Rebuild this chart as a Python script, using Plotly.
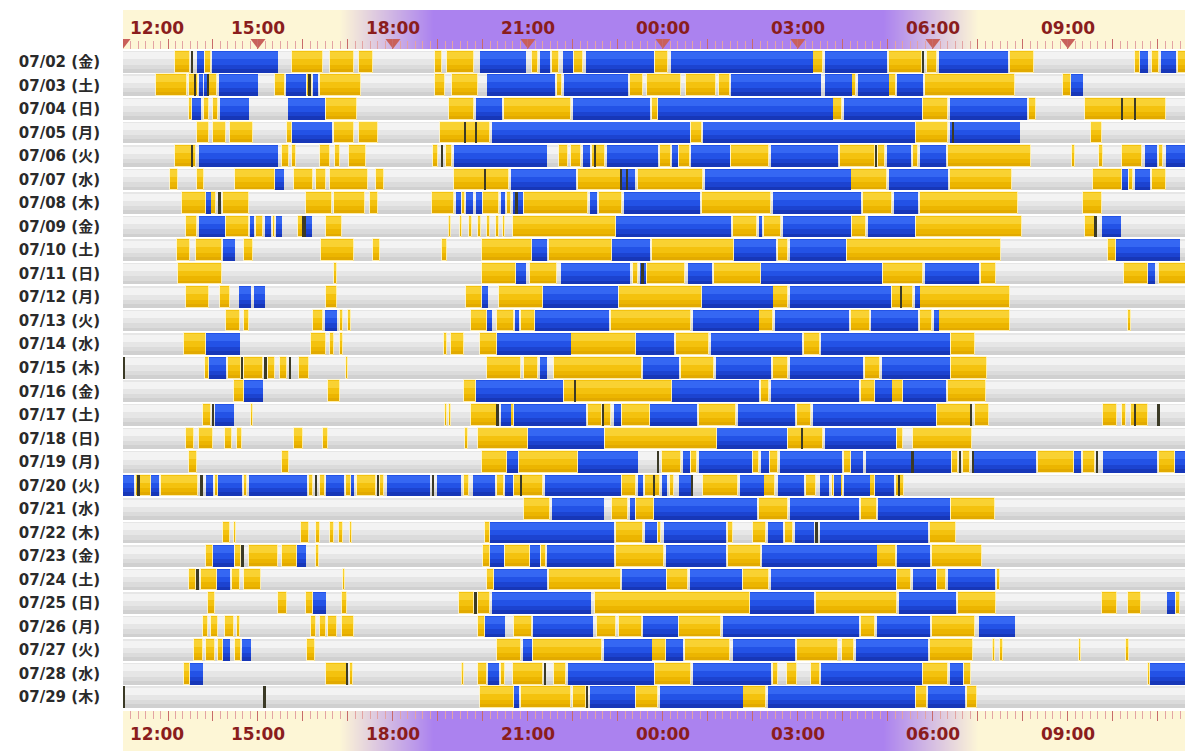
import plotly.graph_objects as go

# ---------------- data (hours after 12:00 of the row's date) ----------------
DATES = ["07/02", "07/03", "07/04", "07/05", "07/06", "07/07", "07/08", "07/09",
         "07/10", "07/11", "07/12", "07/13", "07/14", "07/15", "07/16", "07/17",
         "07/18", "07/19", "07/20", "07/21", "07/22", "07/23", "07/24", "07/25",
         "07/26", "07/27", "07/28", "07/29"]
WEEKDAYS = ["金", "土", "日", "月", "火", "水", "木", "金", "土", "日", "月", "火", "水", "木",
            "金", "土", "日", "月", "火", "水", "木", "金", "土", "日", "月", "火", "水", "木"]

WINDOW = (0.0, 24.0)   # every row covers 12:00 -> 12:00 next day

TIME_TICKS = [0, 3, 6, 9, 12, 15, 18, 21]
TIME_LABELS = ["12:00", "15:00", "18:00", "21:00", "00:00", "03:00", "06:00", "09:00"]

NIGHT_X = [-0.5, 4.8, 6.9, 16.9, 19.0, 24.5]
NIGHT_Z = [0, 0, 1, 1, 0, 0]

YELLOW = [
    [(1.16,1.50),(1.83,1.96),(3.76,4.45),(4.6,5.14),(5.25,5.56),(6.93,7.09),(7.2,7.81),(9.08,9.23),(9.54,9.69),(10.03,10.22),(11.83,12.12),(15.33,15.56),(17.02,17.75),(17.86,18.1),(19.71,20.25),(22.48,22.6),(22.86,23.02),(23.44,23.78)],
    [(0.74,1.43),(1.46,1.66),(1.92,2.1),(3.38,3.61),(4.08,4.2),(4.37,5.29),(6.93,7.16),(7.32,7.89),(9.65,9.76),(11.26,11.56),(11.64,12.4),(12.52,13.17),(13.25,13.48),(16.21,16.29),(17.02,17.17),(17.83,19.83),(20.9,21.06)],
    [(1.46,1.54),(1.81,1.92),(2.0,2.12),(4.52,5.21),(7.24,7.81),(8.47,9.96),(11.76,11.9),(15.79,15.98),(17.79,18.33),(20.13,20.29),(21.37,23.17)],
    [(1.65,1.92),(2.0,2.3),(2.38,2.88),(3.64,3.76),(4.68,5.14),(5.25,5.67),(7.05,8.16),(12.63,12.86),(17.63,18.33),(21.52,21.75),(23.67,23.78)],
    [(1.16,1.62),(3.53,3.68),(3.76,3.84),(4.37,4.6),(4.72,4.83),(5.02,5.4),(6.9,7.01),(7.17,7.32),(9.69,9.88),(9.96,10.18),(10.42,10.72),(11.94,12.17),(12.36,12.6),(13.52,14.36),(15.94,16.71),(16.79,16.94),(17.56,17.67),(18.33,20.17),(21.1,21.15),(21.7,21.78),(22.2,22.64),(23.02,23.12)],
    [(1.04,1.23),(1.65,1.81),(2.5,3.38),(3.8,4.22),(4.3,4.52),(4.6,5.44),(5.63,5.79),(7.36,8.58),(10.11,11.07),(11.45,12.9),(16.17,16.98),(18.37,19.75),(21.56,22.21),(22.35,22.45),(22.87,23.17)],
    [(1.31,1.85),(1.96,2.07),(2.23,2.8),(4.07,4.64),(4.68,5.37),(5.48,5.67),(6.86,7.36),(7.53,7.6),(8.0,8.35),(8.54,8.62),(8.92,10.34),(10.57,11.1),(12.86,14.4),(16.44,17.1),(17.71,19.9),(21.33,21.75)],
    [(1.39,1.65),(2.3,2.8),(2.95,3.12),(3.33,3.38),(3.9,4.0),(4.52,4.87),(7.24,7.28),(7.5,7.54),(7.7,7.75),(7.9,7.95),(8.1,8.15),(8.3,8.35),(8.45,8.5),(8.66,10.95),(13.56,14.1),(14.25,14.63),(16.21,16.52),(17.63,19.98),(21.37,21.6)],
    [(1.2,1.5),(1.62,2.19),(2.69,2.88),(4.41,5.14),(5.56,5.71),(7.09,7.2),(7.97,9.08),(9.46,10.87),(11.76,13.59),(14.56,14.79),(16.1,19.52),(21.9,22.06)],
    [(1.23,2.19),(4.68,4.75),(7.97,8.73),(9.04,9.65),(11.33,11.45),(11.65,12.48),(13.13,14.17),(16.9,17.79),(19.06,19.4),(22.25,22.79),(23.02,23.78)],
    [(1.39,1.92),(2.15,2.38),(4.52,4.75),(7.62,7.97),(8.35,9.34),(11.03,12.86),(14.44,14.79),(17.1,17.56),(17.71,19.71)],
    [(2.3,2.61),(2.7,2.8),(4.22,4.45),(4.83,4.88),(5.0,5.06),(7.74,8.08),(8.31,8.7),(8.85,9.15),(10.84,12.63),(14.13,14.44),(16.17,16.6),(17.71,17.98),(18.13,19.71),(22.33,22.4)],
    [(1.35,1.85),(4.18,4.52),(4.6,4.7),(4.83,4.9),(7.13,7.2),(7.3,7.58),(7.93,8.31),(9.96,11.41),(12.29,13.02),(15.13,15.48),(18.4,18.94)],
    [(1.82,1.92),(2.34,2.62),(2.69,3.11),(3.22,3.38),(3.5,3.65),(3.91,4.14),(4.95,5.0),(8.08,8.85),(8.92,9.23),(9.57,11.53),(12.4,13.13),(14.44,14.79),(16.48,16.83),(18.4,19.21)],
    [(2.46,2.69),(4.56,4.83),(7.58,7.85),(9.8,12.21),(14.17,14.36),(16.4,16.71),(17.1,17.33),(18.33,19.17)],
    [(1.77,1.96),(2.84,2.89),(7.16,7.2),(7.25,7.28),(7.74,8.31),(8.62,8.7),(10.34,10.64),(10.7,10.85),(11.1,11.72),(12.79,13.63),(14.98,15.29),(18.1,18.87),(18.94,19.25),(21.79,22.1),(22.2,22.3),(22.4,22.79)],
    [(1.39,1.58),(1.69,2.0),(2.27,2.42),(2.53,2.65),(3.8,3.99),(4.45,4.56),(7.6,7.67),(7.89,9.0),(10.72,13.21),(14.79,15.56),(17.21,17.33),(17.56,18.87)],
    [(1.46,1.65),(3.53,3.68),(7.97,8.54),(8.81,10.11),(11.98,12.4),(12.63,12.75),(14.0,14.13),(14.38,14.55),(16.02,16.17),(18.42,18.55),(18.67,18.83),(20.33,21.13),(21.33,21.6),(23.02,23.37)],
    [(0.28,0.62),(0.85,1.66),(2.04,2.11),(2.69,2.76),(4.14,4.22),(4.37,4.49),(4.95,5.06),(5.21,5.63),(5.71,5.79),(7.58,7.7),(8.31,8.47),(8.7,9.34),(11.1,11.41),(11.6,11.93),(12.15,12.25),(12.9,13.67),(14.25,14.5),(15.17,15.4),(15.75,15.8),(15.95,16.0),(16.6,16.71),(17.17,17.36)],
    [(8.92,9.5),(10.87,11.22),(11.41,11.79),(14.13,14.79),(16.4,16.75),(18.4,19.37)],
    [(2.23,2.38),(2.46,2.52),(3.95,4.14),(4.3,4.38),(4.6,4.7),(4.8,4.88),(5.05,5.1),(8.04,8.16),(10.95,11.56),(11.88,11.96),(13.44,13.56),(14.0,14.29),(14.71,14.9),(17.94,18.52)],
    [(1.85,2.0),(2.5,2.62),(2.8,3.45),(3.53,3.87),(4.3,4.36),(8.0,8.16),(8.5,9.04),(9.3,9.4),(10.95,12.02),(13.44,14.17),(16.75,17.17),(17.98,19.1)],
    [(1.46,1.62),(1.73,2.08),(2.42,2.61),(2.69,3.07),(4.88,4.93),(8.08,8.24),(9.46,11.07),(12.1,12.56),(13.79,14.36),(17.21,17.52),(18.1,18.29),(19.42,19.48)],
    [(1.88,2.04),(3.45,3.64),(4.07,4.22),(4.87,4.98),(7.47,7.81),(7.89,8.16),(10.49,13.94),(15.4,17.21),(18.56,19.4),(21.75,22.1),(22.33,22.63),(23.4,23.48)],
    [(1.77,1.88),(1.96,2.11),(2.27,2.46),(2.53,2.6),(4.18,4.3),(4.37,4.52),(4.56,4.75),(4.87,5.14),(7.89,8.04),(8.7,9.08),(10.53,10.95),(11.03,11.53),(12.36,13.29),(16.4,16.71),(17.98,18.94)],
    [(1.58,1.77),(1.85,2.04),(2.12,2.23),(2.5,2.62),(4.1,4.26),(8.31,8.85),(9.11,10.64),(11.75,12.06),(12.48,13.48),(14.98,15.9),(15.98,16.25),(17.94,18.9),(19.33,19.37),(19.5,19.55),(21.25,21.3),(22.3,22.35)],
    [(1.35,1.5),(4.52,4.98),(5.05,5.12),(7.53,7.57),(7.89,8.08),(8.39,8.5),(8.66,9.34),(9.57,9.84),(11.82,12.63),(14.44,14.55),(14.75,14.98),(15.3,15.48),(17.79,18.33),(18.7,18.85),(22.78,22.83)],
    [(7.93,8.7),(8.85,9.96),(10.0,10.3),(11.41,11.9),(13.79,14.29),(17.63,17.87),(18.75,18.98)],
]

BLUE = [
    [(1.65,1.81),(1.98,3.45),(7.93,8.96),(9.27,9.5),(9.77,9.99),(10.3,11.8),(12.17,15.33),(15.6,16.98),(18.13,19.67),(22.6,22.79),(23.06,23.4)],
    [(1.69,1.77),(1.81,1.88),(2.14,2.99),(3.63,4.06),(4.22,4.33),(8.08,9.61),(9.8,11.22),(13.52,15.52),(15.6,16.21),(16.33,17.02),(17.21,17.79),(21.06,21.33)],
    [(1.54,1.73),(2.15,2.8),(3.66,4.49),(7.85,8.43),(9.99,11.72),(11.9,15.79),(16.02,17.75),(18.37,20.1)],
    [(3.76,4.64),(8.2,12.6),(12.9,17.6),(18.37,19.94)],
    [(1.68,3.45),(7.36,9.42),(10.22,10.38),(10.76,11.9),(12.21,12.33),(12.63,13.48),(14.4,15.9),(16.98,17.52),(17.71,18.29),(22.71,22.98),(23.17,23.78)],
    [(3.38,3.57),(8.62,10.07),(11.1,11.37),(12.94,16.17),(17.02,18.33),(22.21,22.33),(22.48,22.83)],
    [(1.85,1.96),(7.39,7.51),(7.62,7.77),(7.85,7.97),(8.39,8.5),(8.66,8.88),(10.38,10.53),(11.14,12.83),(14.44,16.4),(17.13,17.67)],
    [(1.68,2.27),(2.83,2.92),(3.15,3.3),(3.41,3.53),(4.07,4.2),(10.95,13.52),(14.13,14.21),(14.67,16.17),(16.56,17.6),(21.75,22.17)],
    [(2.23,2.5),(9.08,9.42),(10.87,11.72),(13.59,14.52),(14.83,16.06),(22.06,23.48)],
    [(8.73,8.96),(9.73,11.26),(11.5,11.62),(12.56,13.1),(14.17,16.86),(17.83,19.02),(22.79,22.94)],
    [(2.57,2.84),(2.92,3.15),(7.97,8.12),(9.34,10.99),(12.86,14.44),(14.83,17.06),(17.6,17.71)],
    [(4.49,4.75),(8.08,8.2),(8.72,8.8),(9.15,10.8),(12.67,14.13),(14.48,16.13),(16.63,17.67),(18.02,18.13)],
    [(1.85,2.61),(8.31,9.96),(11.41,12.25),(13.06,15.1),(15.52,18.37)],
    [(1.92,2.3),(9.27,9.42),(11.56,12.36),(13.17,14.4),(14.83,16.44),(16.86,18.37)],
    [(2.69,3.11),(7.85,9.77),(12.21,14.13),(14.4,16.36),(16.71,17.1),(17.33,18.29)],
    [(2.04,2.46),(8.39,8.62),(8.7,10.3),(10.91,11.07),(11.72,12.75),(13.67,14.94),(15.33,18.06)],
    [(9.0,10.68),(13.21,14.75),(15.6,17.17)],
    [(8.54,8.77),(10.11,11.45),(12.44,12.6),(12.79,13.98),(14.17,14.36),(14.6,15.98),(16.17,16.44),(16.52,18.4),(18.92,20.29),(21.13,21.29),(21.79,22.98),(23.37,23.78)],
    [(0.01,0.24),(0.62,0.81),(1.85,2.0),(2.11,2.65),(2.8,4.1),(4.52,4.91),(5.06,5.14),(5.86,6.82),(6.97,7.51),(7.78,8.27),(8.5,8.66),(9.38,11.07),(11.45,11.56),(11.98,12.1),(12.36,12.63),(13.71,14.25),(14.56,15.13),(15.48,15.7),(15.8,15.95),(16.02,16.6),(16.71,17.13)],
    [(9.54,10.68),(11.26,11.37),(11.79,14.1),(14.83,16.36),(16.79,18.37)],
    [(8.16,10.91),(11.6,11.86),(12.02,13.4),(14.33,14.67),(14.94,15.36),(15.48,17.9)],
    [(2.0,2.46),(3.87,4.07),(8.16,8.47),(9.04,9.27),(9.42,10.91),(12.06,13.4),(14.21,16.75),(17.21,17.94)],
    [(2.08,2.38),(8.24,9.42),(11.1,12.06),(12.6,13.75),(14.4,17.17),(17.56,18.06),(18.33,19.37)],
    [(4.22,4.52),(8.2,10.41),(13.94,15.36),(17.25,18.52),(23.21,23.37)],
    [(8.04,8.5),(9.11,10.45),(11.56,12.33),(13.33,16.36),(16.75,17.94),(19.02,19.83)],
    [(2.23,2.38),(2.65,2.84),(8.89,9.08),(10.68,11.75),(12.06,12.44),(13.56,14.94),(16.29,17.9)],
    [(1.5,1.77),(8.12,8.35),(9.88,11.8),(12.67,14.4),(15.52,17.75),(18.37,18.67),(22.83,23.78)],
    [(8.7,8.81),(10.38,11.37),(11.94,13.79),(14.33,17.6),(17.9,18.71)],
]

DARK = [
    [1.54, 17.79], [1.6, 1.9, 4.15], [22.2, 22.5], [7.6, 7.85, 18.45],
    [1.54, 7.09, 10.5, 16.74], [8.05, 11.08, 11.2], [2.15, 8.75], [4.0, 4.05, 21.62],
    [], [11.55], [17.3], [], [], [0.03, 2.65, 3.17, 3.72], [10.05],
    [2.0, 8.33, 10.67, 18.85, 22.5, 23.02], [15.1], [11.9, 17.55, 18.6, 18.9, 21.65],
    [0.35, 1.75, 4.29, 5.67, 6.9, 8.85, 11.8, 12.65, 17.25], [], [15.42], [2.66], [1.66],
    [7.84], [], [], [4.99, 9.38], [0.03, 3.15, 10.32],
]

# ---------------- figure ----------------
fig = go.Figure()


def flatten(rows):
    ys, bases, lens = [], [], []
    for r, row in enumerate(rows):
        for s, e in row:
            ys.append(r)
            bases.append(s)
            lens.append(e - s)
    return ys, bases, lens


def add_layers(rows, layers, outline=None):
    ys, bases, lens = flatten(rows)
    for off, w, col in layers:
        fig.add_trace(go.Bar(orientation="h", y=ys, x=lens, base=bases, offset=off, width=w,
                             marker=dict(color=col, line=dict(width=0)),
                             hoverinfo="skip", showlegend=False, xaxis="x", yaxis="y"))
    if outline:
        fig.add_trace(go.Bar(orientation="h", y=ys, x=lens, base=bases, offset=-0.46, width=0.92,
                             marker=dict(color="rgba(0,0,0,0)", line=dict(width=1, color=outline)),
                             hoverinfo="skip", showlegend=False, xaxis="x", yaxis="y"))


grey_rows = [[WINDOW] for _ in DATES]
add_layers(grey_rows, [(-0.46, 0.92, "#e6e6e6"), (-0.40, 0.30, "#f3f3f3"),
                       (0.12, 0.34, "#dbdbdb"), (0.30, 0.16, "#d0d0d0")])
add_layers(YELLOW, [(-0.46, 0.92, "#f4c20e"), (-0.42, 0.30, "#f9d232"),
                    (0.12, 0.34, "#ecb500"), (0.30, 0.16, "#e2aa00")],
           outline="rgba(255,246,200,0.85)")
add_layers(BLUE, [(-0.46, 0.92, "#2352e6"), (-0.42, 0.30, "#3567f3"),
                  (0.12, 0.34, "#1c43d0"), (0.30, 0.16, "#1737b8")])
dark_rows = [[(p - 0.02, p + 0.02) for p in row] for row in DARK]
add_layers(dark_rows, [(-0.46, 0.92, "#3b3a26")])

# header / footer bands (day-night gradient)
band_scale = [[0, "#fdf6d6"], [1, "#ab82ef"]]
for xa, ya in (("x2", "y2"), ("x3", "y3")):
    fig.add_trace(go.Heatmap(x=NIGHT_X, y=[0, 1], z=[NIGHT_Z, NIGHT_Z], colorscale=band_scale,
                             zmin=0, zmax=1, zsmooth="best", showscale=False,
                             hoverinfo="skip", xaxis=xa, yaxis=ya))

# triangles on top band
fig.add_trace(go.Scatter(x=TIME_TICKS, y=[0.17] * len(TIME_TICKS), mode="markers",
                         marker=dict(symbol="triangle-down", size=13, color="#c9605a"),
                         hoverinfo="skip", showlegend=False, xaxis="x2", yaxis="y2"))

# hour labels (top and bottom bands)
label_font = dict(family="DejaVu Sans", size=17, color="#8a1d1d", weight="bold")
annotations = []
for i, (t, lab) in enumerate(zip(TIME_TICKS, TIME_LABELS)):
    first = i == 0
    for xr, yr, yv in (("x2", "y2", 0.55), ("x3", "y3", 0.42)):
        annotations.append(dict(x=t, y=yv, xref=xr, yref=yr, text=lab, showarrow=False,
                                font=label_font, xanchor="left" if first else "center",
                                xshift=5 if first else 0, yanchor="middle"))

XMAX = 23.78
tick_common = dict(showgrid=False, zeroline=False, showline=False, showticklabels=False,
                   automargin=False,
                   ticks="inside", dtick=1, tick0=0, ticklen=10, tickwidth=1, tickcolor="#c86a6a",
                   minor=dict(ticks="inside", dtick=1 / 6, tick0=0, ticklen=8, tickwidth=1,
                              tickcolor="#e3a3a3"))

# the page body adds an 8px offset, so the figure is sized/margined to compensate
fig.update_layout(
    width=1185, height=743,
    margin=dict(l=115, r=0, t=2, b=0, autoexpand=False),
    paper_bgcolor="white", plot_bgcolor="white",
    barmode="overlay", bargap=0,
    showlegend=False,
    annotations=annotations,
    xaxis=dict(domain=[0, 1], range=[0, XMAX], visible=False, anchor="y", automargin=False),
    yaxis=dict(domain=[42 / 741, 701 / 741], range=[27.5, -0.5], anchor="x",
               automargin=False,
               showgrid=False, zeroline=False, showline=False,
               tickvals=list(range(len(DATES))),
               ticktext=[f"{d} ({w})" for d, w in zip(DATES, WEEKDAYS)],
               ticks="outside", ticklen=19, tickcolor="rgba(0,0,0,0)",
               tickfont=dict(family="DejaVu Sans, Noto Sans CJK JP", size=15,
                             color="#2a2a2a", weight="bold")),
    xaxis2=dict(matches="x", anchor="y2", side="bottom", **tick_common),
    yaxis2=dict(domain=[702 / 741, 1.0], range=[0, 1], visible=False, anchor="x2",
                automargin=False),
    xaxis3=dict(matches="x", anchor="y3", side="top", **tick_common),
    yaxis3=dict(domain=[0, 40 / 741], range=[0, 1], visible=False, anchor="x3",
                automargin=False),
)

fig.write_html("out.html")
